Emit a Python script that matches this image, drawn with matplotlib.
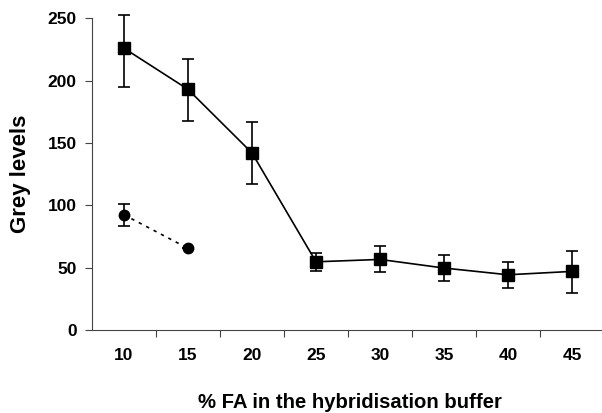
import matplotlib
matplotlib.use("Agg")
import matplotlib.pyplot as plt
import numpy as np

categories = ["10", "15", "20", "25", "30", "35", "40", "45"]
squares = [226, 193, 142, 54.7, 56.6, 49.7, 44.3, 47]
squares_err_low = [31, 25, 25, 7.4, 10.4, 10.2, 10.4, 17]
squares_err_high = [27, 24, 24.6, 7.2, 10.7, 10.1, 10.2, 16]
circles = [92.4, 65.5]
circles_err = [8.7, 0]

plt.rcParams['font.family'] = ['Liberation Sans', 'DejaVu Sans']
fig = plt.figure(figsize=(6.02, 4.13), dpi=100)
ax = fig.add_axes([92/602, 1-330/413, 512/602, (330-18.3)/413])

x = np.arange(len(categories))
ax.errorbar(x, squares, yerr=[squares_err_low, squares_err_high], color='black',
            marker='s', markersize=8.5, linewidth=1.2, elinewidth=1.2, capsize=4,
            capthick=1.2, clip_on=False, zorder=3)
xc = np.arange(len(circles))
ax.errorbar(xc, circles, yerr=circles_err, color='black', marker='o', markersize=7.5,
            linestyle=(0, (2, 3)), linewidth=1.2, elinewidth=1.2, capsize=4,
            capthick=1.2, clip_on=False, zorder=3)

ax.set_xlim(-0.5, len(categories) - 0.5)
ax.set_ylim(0, 250)
ax.set_yticks([0, 50, 100, 150, 200, 250])
ax.set_xticks(x)
ax.set_xticklabels(categories)
ax.set_xticks(np.arange(len(categories)) + 0.5, minor=True)
ax.tick_params(axis='x', which='major', length=0, pad=13)
ax.tick_params(axis='x', which='minor', length=5, width=0.8, color='#444444', direction='out')
ax.tick_params(axis='y', length=5, width=0.8, color='#444444', pad=6)
for lab in ax.get_xticklabels() + ax.get_yticklabels():
    lab.set_fontweight('bold')
    lab.set_fontsize(12.5)

for s in ['top', 'right']:
    ax.spines[s].set_visible(False)
for s in ['left', 'bottom']:
    ax.spines[s].set_color('#444444')
    ax.spines[s].set_linewidth(0.8)

ax.set_ylabel('Grey levels', fontsize=16, fontweight='bold', labelpad=12)
fig.text(350/602, 1-403/413, '% FA in the hybridisation buffer', fontsize=14.6,
         fontweight='bold', ha='center', va='center')

fig.savefig('out.png', dpi=100)
